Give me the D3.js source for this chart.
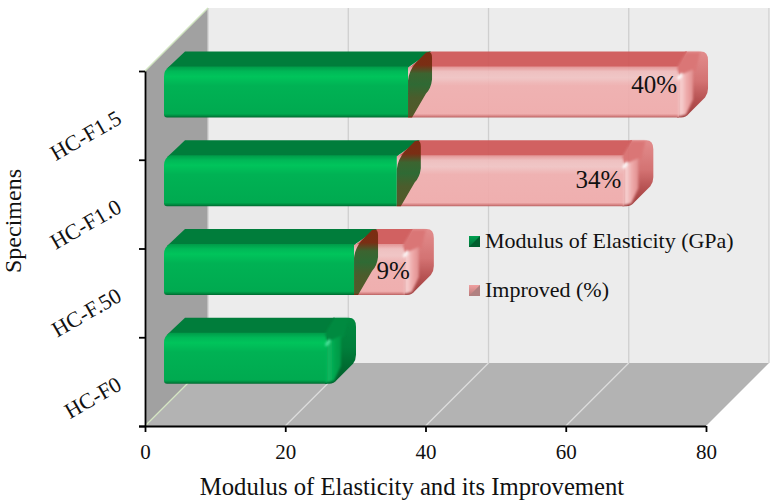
<!DOCTYPE html>
<html><head><meta charset="utf-8">
<script src="https://cdn.jsdelivr.net/npm/d3@7"></script>
<style>html,body{margin:0;padding:0;background:#fff}svg{display:block}text{font-family:"Liberation Serif",serif;fill:#111}</style>
</head><body><div id="c"></div>
<script>
const categories = ["HC-F0","HC-F.50","HC-F1.0","HC-F1.5"];
const modulus = [24.1, 27.1, 33.2, 34.8];
const improved = [0, 8.1, 33.3, 39.5];
const improvedLabels = ["", "9%", "34%", "40%"];
const xTicks = [0,20,40,60,80];
const seriesNames = ["Modulus of Elasticity (GPa)","Improved (%)"];
const xTitle = "Modulus of Elasticity and its Improvement";
const yTitle = "Specimens";

const W=775,H=503, wallD=63;
const x=d3.scaleLinear([0,80],[145,706]);
const yEdge=d3.scaleLinear([0,4],[426,71]);
const y=d3.scaleBand(categories,[426,71]);
const svg=d3.select("#c").append("svg").attr("width",W).attr("height",H);
const defs=svg.append("defs");
function grad(id,stops,horizontal){
  const g=defs.append("linearGradient").attr("id",id).attr("x1",0).attr("y1",0)
    .attr("x2",horizontal?1:0).attr("y2",horizontal?0:1);
  stops.forEach(s=>g.append("stop").attr("offset",s[0]).attr("stop-color",s[1]).attr("stop-opacity",s[2]===undefined?1:s[2]));
}
defs.append("filter").attr("id","soft").attr("x","-30%").attr("y","-30%").attr("width","160%").attr("height","160%").append("feGaussianBlur").attr("stdDeviation",1.1);
defs.append("filter").attr("id","soft2").attr("x","-100%").attr("y","-100%").attr("width","300%").attr("height","300%").append("feGaussianBlur").attr("stdDeviation",1);
grad("gFront",[[0,"#009a48"],[.1,"#00b857"],[.2,"#00c45b"],[.38,"#00b254"],[.93,"#00aa50"],[.97,"#008a40"],[1,"#006a30"]]);
grad("rFront",[[0,"#e28e8e"],[.1,"#efbcbc"],[.22,"#f1c4c4"],[.38,"#f0aeae"],[.93,"#f0abab"],[.97,"#d88080"],[1,"#b85a5a"]]);
grad("gRight",[[0,"#00893f"],[.45,"#007f3b"],[.75,"#006a30"],[1,"#00602c"]]);
grad("rRight",[[0,"#e28686"],[.45,"#d26a6a"],[.72,"#b44848"],[1,"#983030"]]);
grad("gMid",[[0,"#00b254"],[.2,"#10b860"],[.55,"#00a64e"],[1,"#009646"]],true);
grad("rMid",[[0,"#f0aeae"],[.2,"#f7d0d0"],[.55,"#f0a8a8"],[1,"#e08888"]],true);
grad("olive",[[0,"#7c2c12"],[.2,"#7a2e14"],[.33,"#3c6430"],[.5,"#2f6a34"],[.7,"#4b5c2c"],[.97,"#525a2a"],[1,"#7c2c12"]]);
grad("swG",[[0,"#00a050"],[1,"#007038"]]);
grad("swR",[[0,"#f0a0a0"],[1,"#b87878"]]);

// walls
const d=wallD;
const poly=(pts,fill,sel=svg)=>sel.append("polygon").attr("points",pts.map(p=>p.join(",")).join(" ")).attr("fill",fill);
const yb=yEdge(0),yt=yEdge(4);
poly([[x(0)+d,yt-d],[x(80)+d,yt-d],[x(80)+d,yb-d],[x(0)+d,yb-d]],"#ececec");
poly([[x(0),yt],[x(0)+d,yt-d],[x(0)+d,yb-d],[x(0),yb]],"#a1a1a1");
poly([[x(0),yb],[x(80),yb],[x(80)+d,yb-d],[x(0)+d,yb-d]],"#b3b3b3");
// grid
xTicks.forEach(t=>{
  svg.append("line").attr("x1",x(t)+d).attr("x2",x(t)+d).attr("y1",yt-d).attr("y2",yb-d).attr("stroke","#cfcfcf").attr("stroke-width",1.3);
  if(t<80) svg.append("line").attr("x1",x(t)).attr("y1",yb).attr("x2",x(t)+d).attr("y2",yb-d)
    .attr("stroke",t==0?"#d5e6c4":"#dedede").attr("stroke-width",1.2);
});
svg.append("line").attr("x1",x(0)).attr("y1",yt).attr("x2",x(0)+d).attr("y2",yt-d).attr("stroke","#cfe3bf").attr("stroke-width",1.5);

// bars
const ox=19, dx=23, dy=15, hFront=51;
function bar(g,f0,f1,s,opts){
  const bot=opts.bot, top=bot-hFront, back=top-dy;
  const isStart=opts.start, isEnd=opts.end;
  const topFill=s=="g"?"#007d3b":"#cf5757";
  const b0=f0+dx,b1=f1+dx;
  const bodyEnd=isEnd?f1-6:f1;
  if(isEnd){
    g.append("path").attr("d",`M${f1-8},${top}L${f1},${back}L${b1-7},${back}Q${b1},${back} ${b1},${back+9}L${b1},${bot-29}Q${b1},${bot-24} ${b1-3},${bot-20}L${f1+4},${bot-4}Q${f1+1},${bot} ${f1-4},${bot}L${f1-8},${bot}Z`)
      .attr("fill",`url(#${s}Right)`);
  }
  // top face
  const topEndBack=isEnd?bodyEnd+8:b1, topEndFront=bodyEnd;
  g.append("path").attr("d",`M${f0+(isStart?3:0)},${top+2}L${b0-2},${back}L${topEndBack},${back}L${topEndFront},${top+1}Z`).attr("fill",topFill);
  // front face
  let dp = isStart
    ? `M${f0},${top+10}Q${f0},${top+3} ${f0+6},${top}L${bodyEnd},${top}L${bodyEnd},${bot}L${f0+3},${bot}Q${f0},${bot} ${f0},${bot-3}Z`
    : `M${f0},${top}L${bodyEnd},${top}L${bodyEnd},${bot}L${f0},${bot}Z`;
  g.append("path").attr("d",dp).attr("fill",`url(#${s}Front)`);
  if(isEnd){
    const soft=g.append("g").attr("filter","url(#soft)");
    soft.append("path").attr("d",`M${f1-8},${top+1}L${f1+1},${back+1}L${b1-8},${back+1}L${f1+11},${top+4}L${f1-5},${top+11}Z`).attr("fill",s=="g"?"#008a40":"#d96e6e");
    soft.append("path").attr("d",`M${f1-7},${top+10}L${f1+8},${top+3}L${f1+8},${bot-18}L${f1+1},${bot-3}L${f1-7},${bot-1}Z`).attr("fill",`url(#${s}Mid)`);
    g.append("ellipse").attr("cx",f1-5).attr("cy",top+10).attr("rx",1.6).attr("ry",4)
      .attr("transform",`rotate(35 ${f1-5} ${top+10})`).attr("fill",s=="g"?"#50e8a0":"#fff").attr("filter","url(#soft2)");
  }
}
const labelDrop=[0,16,18,24], labelInset=[0,1,9,8];
const barsG=svg.append("g");
categories.forEach((c,i)=>{
  const bot=y(c)+y.bandwidth()/2+2;
  const row=barsG.append("g");
  const f=v=>x(v)+ox;
  const m=modulus[i], tot=m+improved[i];
  if(improved[i]>0){
    const rg=row.append("g").attr("opacity",.93);
    bar(rg,f(m),f(tot),"r",{bot,start:false,end:true});
  }
  bar(row,f(0),f(m),"g",{bot,start:true,end:improved[i]==0});
  if(improved[i]>0){
    const a=f(m), top=bot-hFront, back=top-dy;
    row.append("path").attr("d",`M${a},${bot}L${a},${top+14}Q${a+1},${top+4} ${a+8},${top-4}L${a+dx-5},${back+1}Q${a+dx+1},${back-1} ${a+dx+1},${back+6}L${a+dx+1},${back+28}Q${a+dx},${back+37} ${a+dx-5},${back+42}L${a+4},${bot}Z`).attr("fill","url(#olive)");
    row.append("text").attr("x",f(tot)-labelInset[i]).attr("y",bot-labelDrop[i]).attr("text-anchor","end").attr("font-size",25).text(improvedLabels[i]);
  }
});

// axes
const ax=svg.append("g").attr("transform",`translate(0,${yb})`).call(d3.axisBottom(x).tickValues(xTicks).tickSize(6).tickSizeOuter(0).tickFormat(d3.format("d")));
ax.selectAll("text").attr("font-size",21).attr("dy",0).attr("y",33);
const ay=svg.append("g").attr("transform",`translate(${x(0)},0)`).call(d3.axisLeft(yEdge).tickValues([0,1,2,3,4]).tickSize(6).tickSizeOuter(0).tickFormat(""));
[ax,ay].forEach(a=>{a.selectAll("path,line").attr("stroke","#000").attr("stroke-width",1.8);});
ax.select(".domain").attr("d",`M${x(0)-6},0.5H${x(80)}`);

categories.forEach(c=>{
  const cy=y(c)+y.bandwidth()/2;
  svg.append("text").attr("transform",`translate(123,${cy+7}) rotate(-30)`).attr("text-anchor","end").attr("font-size",22).text(c);
});

svg.append("text").attr("transform","translate(21,221) rotate(-90)").attr("text-anchor","middle").attr("font-size",24).text(yTitle);
svg.append("text").attr("x",412).attr("y",495).attr("text-anchor","middle").attr("font-size",24.7).text(xTitle);

// legend
const lg=svg.append("g");
seriesNames.forEach((n,i)=>{
  const ly=[248,297][i];
  const s=i==0?"G":"R";
  lg.append("rect").attr("x",469).attr("y",ly-12).attr("width",11).attr("height",11).attr("fill",`url(#sw${s})`);
  lg.append("path").attr("d",`M469,${ly-1}L480,${ly-12}L480,${ly-1}Z`).attr("fill",i==0?"#005e2e":"#b08080");
  lg.append("text").attr("x",485).attr("y",ly).attr("font-size",22).text(n);
});
</script></body></html>
